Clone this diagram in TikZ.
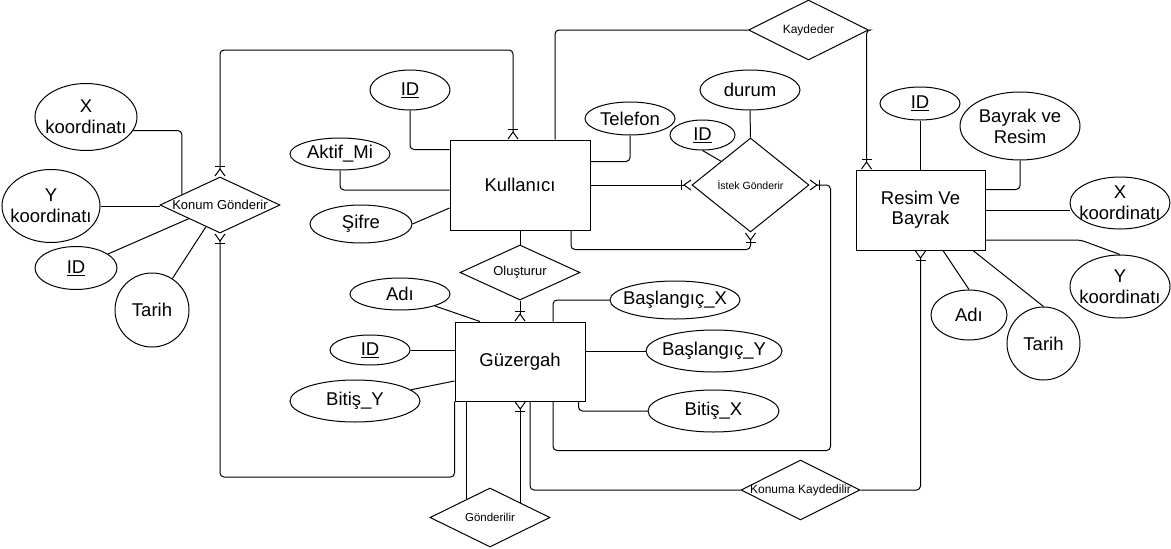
\documentclass[tikz,border=0pt]{standalone}
\usepackage{fontspec}
\setmainfont{Liberation Sans}
\usetikzlibrary{shapes.geometric,arrows.meta,calc}
\tikzset{
  ent/.style={draw, rectangle, inner sep=0pt, align=center, font=\fontsize{18.5}{20}\selectfont},
  attr/.style={draw, ellipse, inner sep=0pt},
  rel/.style={draw, diamond, inner sep=0pt},
  lbl/.style={inner sep=0pt, align=center, font=\fontsize{18.5}{21}\selectfont},
  rlbl/.style={inner sep=0pt, align=center, font=\fontsize{#1}{#1}\selectfont},
  conn/.style={draw, rounded corners=4pt},
  crow/.tip={Bar[width=10pt,sep=1pt] Straight Barb[reversed,length=7pt,width=10pt]},
}
\newcommand\attrnode[5]{%
  \node[attr, minimum width=#3, minimum height=#4] (#1) at (#2) {};
  \node[lbl] (#1-t) at (#1) {#5};}
\newcommand\relnode[6]{%
  \node[rel, minimum width=#3, minimum height=#4] (#1) at (#2) {};
  \node[rlbl=#5] (#1-t) at (#1) {#6};}
\begin{document}
\begin{tikzpicture}[x=1pt,y=-1pt,line width=1pt]
\useasboundingbox (0,0) rectangle (1171,549);
\fill[white] (0,0) rectangle (1171,549);
% entities
\node[ent, minimum width=140, minimum height=90] (kul) at (520,185) {Kullanıcı};
\node[ent, minimum width=130, minimum height=79] (gz) at (520,361.5) {Güzergah};
\node[ent, minimum width=129, minimum height=80] (rb) at (920.5,210) {Resim Ve\\Bayrak};
% relationships
\relnode{kg}{220,205}{120}{56}{13}{Konum Gönderir}
\relnode{ol}{520,272.5}{120}{55}{13}{Oluşturur}
\relnode{ist}{750.5,185}{117}{94}{10.5}{İstek Gönderir}
\relnode{kay}{808.5,30}{120}{60}{12}{Kaydeder}
\relnode{gon}{490,517.5}{120}{59}{11.5}{Gönderilir}
\relnode{kk}{800.5,490}{119}{60}{12}{Konuma Kaydedilir}
% attributes
\attrnode{xk1}{86,117}{102}{67}{X\\koordinatı}
\attrnode{yk1}{51,206}{98}{73}{Y\\koordinatı}
\attrnode{id1}{76,268}{82}{43}{\underline{ID}}
\attrnode{tar1}{152,310}{74}{74}{Tarih}
\attrnode{idK}{410,90}{80}{40}{\underline{ID}}
\attrnode{akt}{340,154}{100}{32}{Aktif\_Mi}
\attrnode{sif}{361,224}{102}{38}{Şifre}
\attrnode{tel}{630,118.5}{90}{33}{Telefon}
\attrnode{idI}{702.5,135}{65}{30}{\underline{ID}}
\attrnode{dur}{750,90}{100}{40}{durum}
\attrnode{adG}{400,294}{100}{32}{Adı}
\attrnode{idG}{370,350}{80}{30}{\underline{ID}}
\attrnode{bY}{355,401}{130}{42}{Bitiş\_Y}
\attrnode{bsX}{675,300}{130}{38}{Başlangıç\_X}
\attrnode{bsY}{714,351}{136}{42}{Başlangıç\_Y}
\attrnode{bX}{713.5,411}{131}{42}{Bitiş\_X}
\attrnode{idR}{920,103.5}{80}{33}{\underline{ID}}
\attrnode{byr}{1020,126}{120}{68}{Bayrak ve\\Resim}
\attrnode{xk2}{1120,203}{100}{52}{X\\koordinatı}
\attrnode{yk2}{1120,286.5}{100}{63}{Y\\koordinatı}
\attrnode{adR}{969,315}{76}{50}{Adı}
\attrnode{tarR}{1043.5,343.5}{73}{73}{Tarih}
% helper points on diamond edges
\coordinate (gA) at ($(gon.west)!0.617!(gon.north)$);
\coordinate (gB) at ($(gon.north)!0.5!(gon.east)$);
% Konum Gonderir attributes
\draw[conn] (xk1.-16) -| ($(kg.west)!0.37!(kg.north)$);
\draw[conn] (yk1.east) -- (yk1.east -| kg.west);
\draw[conn] (id1) -- (kg);
\draw[conn] (tar1) -- (kg);
% Kullanici attributes
\draw[conn] (idK.south) |- ([yshift=-10pt]kul.north west);
\draw[conn] (akt.south) |- ([yshift=-5pt]kul.west);
\draw[conn] (sif.east) -- ([yshift=-23pt]kul.west);
\draw[conn] (tel.south) |- ([yshift=-22pt]kul.north east);
% Istek Gonderir
\draw[conn] (dur.south) -- (ist.north);
\draw[conn] (idI.south) -- ($(ist.west)!0.5!(ist.north)$);
\draw[conn,-{crow}] (kul.east) -- (ist.west);
\draw[conn,-{crow}] ([xshift=51pt]kul.south) -- ++(0,19) -| (ist.south);
\draw[conn,-{crow}] ([xshift=33pt]gz.south) -- ++(0,49) -| ([xshift=21pt]ist.east) -- (ist.east);
% Konum Gonderir loops
\draw[conn,{crow}-{crow}] ([xshift=-7pt]kul.north) |- (kg.north |- 0,50) -- (kg.north);
\draw[conn,{crow}-] (kg.south) |- (gz.south west |- 0,477) -- (gz.south west);
% Olusturur
\draw[conn] (kul.south) -- (ol.north);
\draw[conn,-{crow}] (ol.south) -- (gz.north);
% Guzergah attributes
\draw[conn] (adG) -- ([xshift=-40pt]gz.north);
\draw[conn] (idG.east) -- (idG.east -| gz.west);
\draw[conn] (bY) -- ([yshift=-19.5pt]gz.west);
\draw[conn] (bsX.west) -| ([xshift=33pt]gz.north);
\draw[conn] (bsY.west) -- (bsY.west -| gz.east);
\draw[conn] ([xshift=-7pt]gz.south east) |- (bX.west);
% Gonderilir
\draw[conn] (gA) -- (gA |- gz.south);
\draw[conn,-{crow}] (gB) -- (gB |- gz.south);
% Konuma Kaydedilir
\draw[conn] ([xshift=10pt]gz.south) |- (kk.west);
\draw[conn,-{crow}] (kk.east) -| (rb.south);
% Kaydeder
\draw[conn] ([xshift=35pt]kul.north) |- (kay.west);
\draw[conn,-{crow}] (kay.east) -| ([xshift=11pt]rb.north west);
% Resim ve Bayrak attributes
\draw[conn] (idR.south) -- (idR.south |- rb.north);
\draw[conn] (byr.south) |- ([yshift=-20pt]rb.north east);
\draw[conn] (rb.east) -- (rb.east -| xk2.west);
\draw[conn] ([yshift=-30pt]rb.east) -- ++(95,0) -- (yk2.north);
\draw[conn] ([xshift=22.5pt]rb.south) -- (adR.north);
\draw[conn] ([xshift=52.5pt]rb.south) -- (tarR.north);
\end{tikzpicture}
\end{document}
